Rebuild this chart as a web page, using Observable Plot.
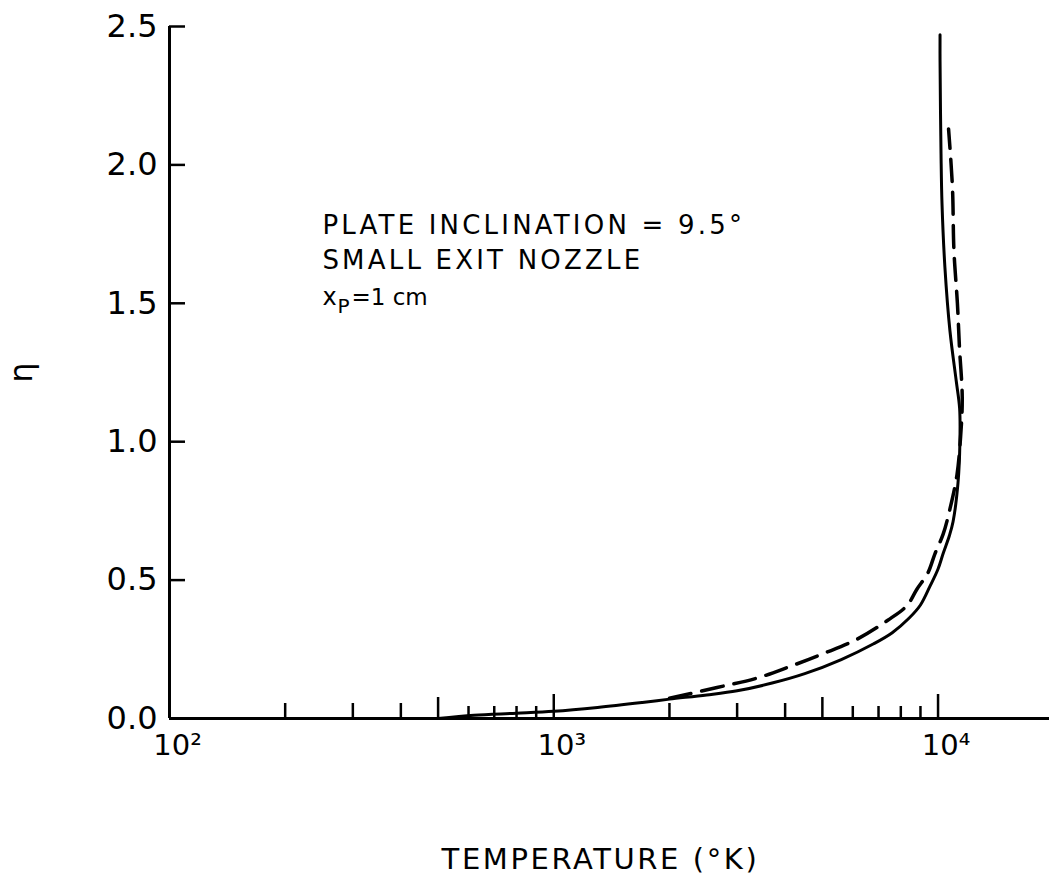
<!DOCTYPE html>
<html>
<head>
<meta charset="utf-8">
<script src="https://cdn.jsdelivr.net/npm/d3@7"></script>
<script src="https://cdn.jsdelivr.net/npm/@observablehq/plot@0.6"></script>
<style>
  body { margin: 0; background: #fff; }
  svg { display: block; }
  .note text { letter-spacing: 3.2px; }
  .xtitle text { letter-spacing: 2.6px; }
</style>
</head>
<body>
<div id="chart"></div>
<script>
// Boundary-layer temperature profile, eta vs temperature (deg K)
const solidT = [500, 620, 800, 1000, 1300, 1700, 2000, 2500, 3000, 3700, 4500, 5600, 6800, 7600, 8400, 9000, 9530, 10000, 10310, 10700, 10940, 11270, 11400, 11380, 11150, 10740, 10420, 10240, 10180, 10120, 10120];
const solidEta = [0, 0.012, 0.019, 0.026, 0.04, 0.058, 0.07, 0.085, 0.1, 0.128, 0.162, 0.213, 0.27, 0.31, 0.362, 0.41, 0.478, 0.54, 0.596, 0.66, 0.711, 0.851, 1.0, 1.12, 1.22, 1.40, 1.63, 1.86, 2.04, 2.38, 2.47];

const dashedT = [2000, 2660, 3380, 4120, 5020, 6150, 7400, 8300, 8810, 9410, 9820, 10310, 10740, 11200, 11450, 11560, 11370, 11230, 11000, 10900, 10650];
const dashedEta = [0.073, 0.112, 0.146, 0.188, 0.234, 0.286, 0.355, 0.408, 0.467, 0.526, 0.596, 0.666, 0.757, 0.88, 1.02, 1.16, 1.34, 1.50, 1.69, 1.92, 2.13];

const etaTicks = [0, 0.5, 1, 1.5, 2, 2.5];
const decadeTicks = [100, 1000, 10000];
const decadeLabels = ["10²", "10³", "10⁴"];
const minorTicks = [200, 300, 400, 2000, 3000, 4000];
const halfTicks = [500, 5000];
const shortTicks = [600, 700, 800, 900, 6000, 7000, 8000, 9000];
const majorTicks = [1000, 10000];

const xTitle = "TEMPERATURE (°K)";
const yTitle = "η";
const noteLines = ["PLATE INCLINATION = 9.5°", "SMALL EXIT NOZZLE"];
const noteEta = [1.78, 1.655];
const noteT = 250;
const xpEta = 1.52;

const solid = solidT.map((T, i) => ({T, eta: solidEta[i]}));
const dashed = dashedT.map((T, i) => ({T, eta: dashedEta[i]}));
const notes = noteLines.map((text, i) => ({text, T: noteT, eta: noteEta[i]}));

const font = "DejaVu Sans, sans-serif";

const chart = Plot.plot({
  width: 1049,
  height: 893,
  marginLeft: 169,
  marginRight: 0,
  marginTop: 26,
  marginBottom: 175,
  style: {fontFamily: font, color: "black", background: "white"},
  x: {type: "log", domain: [100, 19500]},
  y: {domain: [0, 2.5]},
  marks: [
    // inward y ticks
    Plot.axisY({ticks: etaTicks.filter(d => d > 0), tickSize: -16, strokeWidth: 2.5, fill: "none", label: null}),
    // y tick labels and axis title
    Plot.axisY({ticks: etaTicks, tickSize: 0, tickPadding: 12, fontSize: 32,
      tickFormat: d3.format(".1f"), label: yTitle, labelAnchor: "center", labelArrow: "none", labelOffset: 160}),
    // inward x ticks of several lengths
    Plot.axisX({ticks: minorTicks, tickSize: -15, strokeWidth: 2.5, fill: "none", label: null}),
    Plot.axisX({ticks: halfTicks, tickSize: -21, strokeWidth: 2.5, fill: "none", label: null}),
    Plot.axisX({ticks: shortTicks, tickSize: -12, strokeWidth: 2.5, fill: "none", label: null}),
    Plot.axisX({ticks: majorTicks, tickSize: -24, strokeWidth: 2.5, fill: "none", label: null}),
    // decade labels, the "10" centred on its tick
    Plot.axisX({ticks: decadeTicks, tickSize: 0, tickPadding: 16, fontSize: 29, dx: 8,
      tickFormat: d => decadeLabels[decadeTicks.indexOf(d)], label: null}),
    // x axis title
    Plot.text([xTitle], {frameAnchor: "bottom", text: d => d, fontSize: 29, lineAnchor: "bottom",
      dy: 150, dx: -9, className: "xtitle"}),
    // axis lines
    Plot.ruleX([100], {y1: 0, y2: 2.5, strokeWidth: 3}),
    Plot.ruleY([0], {strokeWidth: 3}),
    // profiles
    Plot.line(solid, {x: "T", y: "eta", stroke: "black", strokeWidth: 3, curve: "catmull-rom"}),
    Plot.line(dashed, {x: "T", y: "eta", stroke: "black", strokeWidth: 3.5, strokeDasharray: "22,11", curve: "catmull-rom"}),
    // annotation
    Plot.text(notes, {x: "T", y: "eta", text: "text", textAnchor: "start", fontSize: 26, className: "note"}),
    Plot.text(["x"], {x: noteT, y: xpEta, text: d => d, textAnchor: "start", fontSize: 24}),
    Plot.text(["P"], {x: noteT, y: xpEta, text: d => d, textAnchor: "start", fontSize: 20, dx: 15, dy: 9}),
    Plot.text(["=1 cm"], {x: noteT, y: xpEta, text: d => d, textAnchor: "start", fontSize: 23, dx: 29})
  ]
});

document.getElementById("chart").appendChild(chart);
</script>
</body>
</html>
